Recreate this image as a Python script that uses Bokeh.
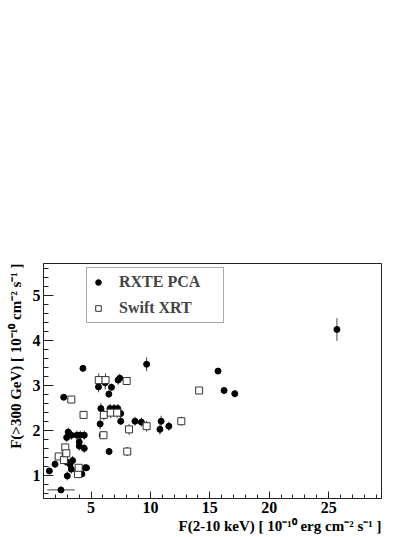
import math
from bokeh.plotting import figure
from bokeh.models import Range1d, FixedTicker, Legend, LegendItem, Title
from bokeh.embed import file_html
from bokeh.resources import INLINE

# RXTE PCA (filled circles)
pca_x = [1.49, 1.97, 2.47, 2.58, 2.70, 2.89, 2.95, 3.00, 3.08, 3.15, 3.23, 3.34,
         3.45, 3.34, 3.34, 3.81, 4.01, 4.01, 4.09, 4.23, 4.32, 4.43, 4.43, 4.51,
         4.62, 5.63, 5.77, 5.83, 5.94, 6.19, 6.50, 6.52, 6.60, 6.72, 6.94, 7.25,
         7.28, 7.42, 7.50, 7.50, 8.70, 9.24, 9.68, 10.8, 10.9, 11.55, 15.69,
         16.2, 17.1, 25.7]
pca_y = [1.11, 1.26, 0.69, 1.42, 2.74, 1.32, 1.85, 1.00, 1.97, 1.92, 1.26, 1.15,
         1.34, 2.69, 1.90, 1.90, 1.75, 1.66, 1.90, 1.04, 3.38, 1.90, 1.61, 1.18,
         1.18, 2.97, 2.15, 2.49, 1.90, 3.06, 2.81, 1.54, 2.49, 2.96, 2.49, 2.49,
         3.12, 3.16, 2.38, 2.21, 2.21, 2.19, 3.47, 2.03, 2.21, 2.10, 3.32,
         2.89, 2.82, 4.24]
pca_yerr = [0.07, 0.08, 0.07, 0.08, 0.05, 0.10, 0.10, 0.10, 0.10, 0.08, 0.10, 0.10,
            0.10, 0.05, 0.10, 0.10, 0.10, 0.10, 0.10, 0.05, 0.05, 0.10, 0.10, 0.05,
            0.05, 0.12, 0.12, 0.12, 0.05, 0.15, 0.08, 0.08, 0.10, 0.08, 0.10, 0.10,
            0.10, 0.10, 0.10, 0.08, 0.10, 0.10, 0.15, 0.12, 0.12, 0.10, 0.05,
            0.05, 0.08, 0.25]
pca_xerr = [0.25, 0.20, 1.15, 0.15, 0.0, 0.10, 0.10, 0.10, 0.0, 0.0, 0.0, 0.0,
            0.0, 0.0, 0.0, 0.0, 0.0, 0.0, 0.0, 0.0, 0.0, 0.0, 0.0, 0.0,
            0.0, 0.0, 0.0, 0.0, 0.0, 0.0, 0.0, 0.0, 0.0, 0.0, 0.0, 0.0,
            0.0, 0.0, 0.0, 0.0, 0.0, 0.0, 0.0, 0.0, 0.0, 0.0, 0.0,
            0.0, 0.0, 0.0]

# Swift XRT (open squares)
xrt_x = [2.28, 2.72, 2.83, 2.92, 3.34, 3.90, 3.96, 4.37, 5.65, 6.08, 6.05, 6.22,
         6.66, 7.20, 8.00, 8.20, 8.05, 9.68, 12.6, 14.1]
xrt_y = [1.43, 1.35, 1.63, 1.50, 2.69, 1.04, 1.18, 2.35, 3.12, 2.35, 1.90, 3.12,
         2.40, 2.40, 3.10, 2.03, 1.54, 2.10, 2.21, 2.89]
xrt_yerr = [0.06, 0.06, 0.08, 0.08, 0.05, 0.05, 0.05, 0.08, 0.15, 0.12, 0.05, 0.15,
            0.12, 0.12, 0.05, 0.12, 0.10, 0.12, 0.10, 0.06]

x_ticks = [5, 10, 15, 20, 25]
y_ticks = [1, 2, 3, 4, 5]
x_title = "F(2-10 keV) [ 10\u207b\u00b9\u2070 erg cm\u207b\u00b2 s\u207b\u00b9 ]"
y_title = "F(>300 GeV) [ 10\u207b\u00b9\u2070 cm\u207b\u00b2 s\u207b\u00b9 ]"

FONT = "Liberation Serif"

p = figure(width=413, height=535, output_backend="svg", toolbar_location=None,
           x_range=Range1d(1.0, 29.45), y_range=Range1d(0.5, 5.7),
           min_border_left=42, min_border_right=32, min_border_top=263,
           min_border_bottom=37)
p.grid.visible = False
p.outline_line_color = "#222222"
p.outline_line_width = 1
p.background_fill_color = "white"
p.border_fill_color = "white"

p.xaxis.ticker = FixedTicker(ticks=x_ticks,
                             minor_ticks=[v for v in range(2, 30) if v % 5 != 0])
y_minor = []
for i in range(27):
    v = round(0.6 + 0.2 * i, 1)
    if abs(v - round(v)) > 1e-6:
        y_minor.append(v)
p.yaxis.ticker = FixedTicker(ticks=y_ticks, minor_ticks=y_minor)
for ax in (p.xaxis[0], p.yaxis[0]):
    ax.axis_line_color = "#222222"
    ax.major_tick_line_color = "#222222"
    ax.minor_tick_line_color = "#222222"
    ax.major_tick_out = 0
    ax.minor_tick_out = 0
    ax.major_label_text_font = FONT
    ax.major_label_text_font_style = "bold"
    ax.major_label_text_font_size = "16px"
    ax.major_label_text_color = "black"
p.xaxis.major_tick_in = 7
p.xaxis.minor_tick_in = 4
p.yaxis.major_tick_in = 10
p.yaxis.minor_tick_in = 5
p.xaxis.major_label_standoff = 3
p.yaxis.major_label_standoff = 3

tx = Title(text=x_title, align="right", standoff=0, offset=0,
           text_font=FONT, text_font_style="bold", text_font_size="15px",
           text_color="black")
ty = Title(text=y_title, align="right", standoff=11, offset=0,
           text_font=FONT, text_font_style="bold", text_font_size="15px",
           text_color="black")
p.add_layout(tx, "below")
p.add_layout(ty, "left")

# error bars
px0, px1, py0, py1 = [], [], [], []
for x, y, ye, xe in zip(pca_x, pca_y, pca_yerr, pca_xerr):
    px0.append(x); px1.append(x); py0.append(y - ye); py1.append(y + ye)
    if xe > 0:
        px0.append(x - xe); px1.append(x + xe); py0.append(y); py1.append(y)
for x, y, ye in zip(xrt_x, xrt_y, xrt_yerr):
    px0.append(x); px1.append(x); py0.append(y - ye); py1.append(y + ye)
p.segment(x0=px0, y0=py0, x1=px1, y1=py1, line_color="#444444", line_width=1)

r_pca = p.scatter(pca_x, pca_y, marker="circle", size=6, fill_color="black",
                  line_color="black")
r_xrt = p.scatter(xrt_x, xrt_y, marker="square", size=7, fill_color="white",
                  line_color="#333333", line_width=1)

legend = Legend(items=[LegendItem(label="RXTE PCA", renderers=[r_pca]),
                       LegendItem(label="Swift XRT", renderers=[r_xrt])],
                location=(43, 175), padding=4, spacing=6, margin=0,
                glyph_width=14, glyph_height=14, label_height=20,
                label_width=100, label_standoff=14,
                label_text_font=FONT, label_text_font_style="bold",
                label_text_font_size="16px", label_text_baseline="middle",
                border_line_color="#555555", border_line_width=1,
                background_fill_color="white", background_fill_alpha=1.0)
p.add_layout(legend, "center")

open("out.html", "w").write(file_html(p, INLINE))
